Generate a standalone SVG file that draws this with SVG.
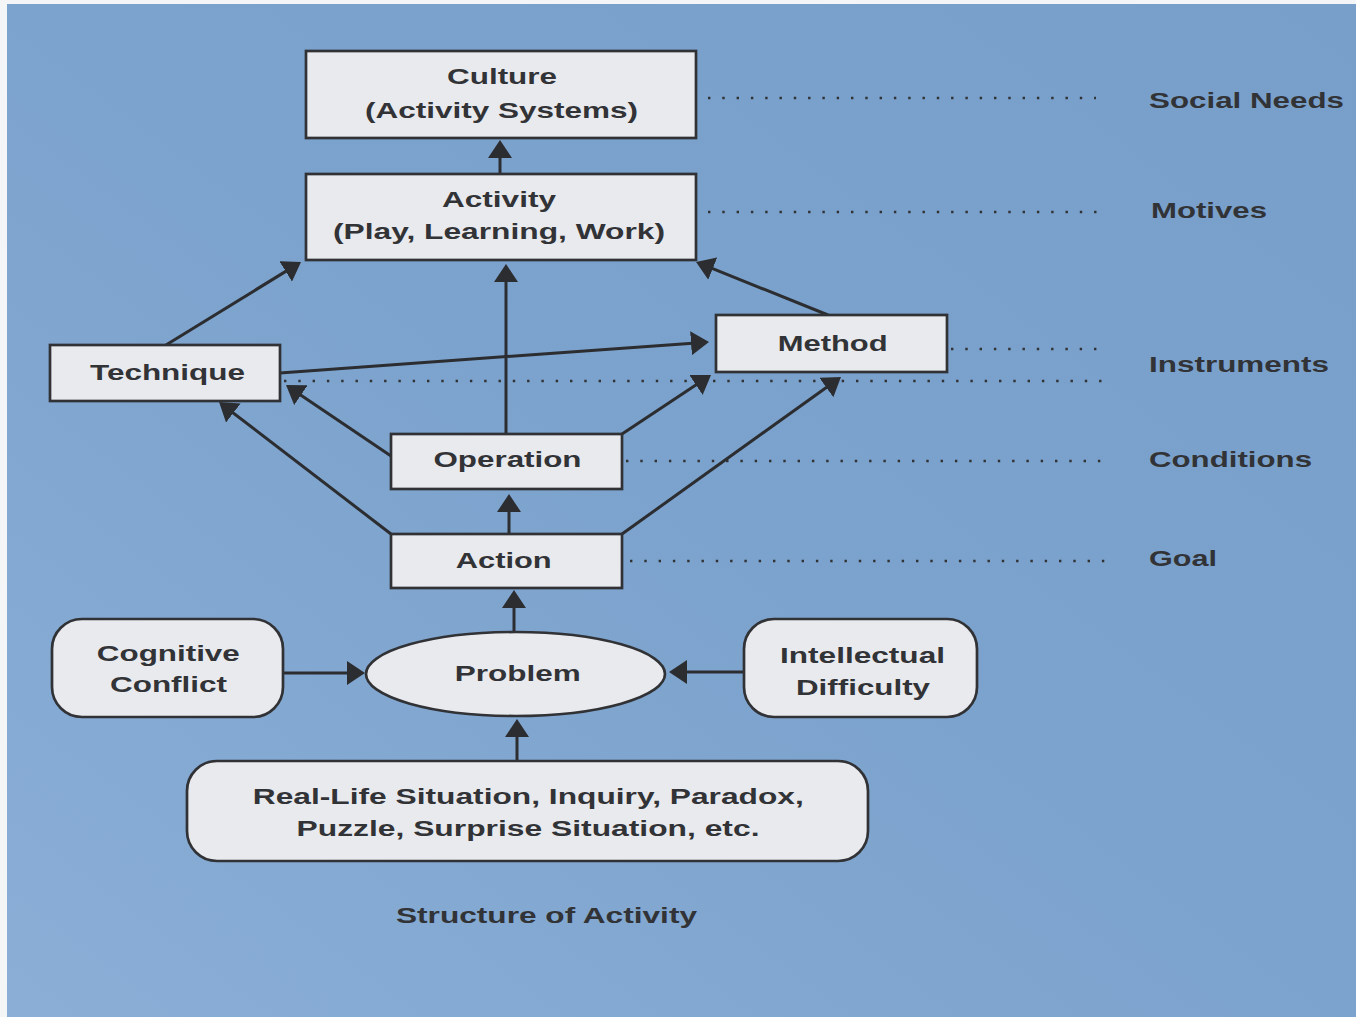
<svg xmlns="http://www.w3.org/2000/svg" width="1356" height="1017" viewBox="0 0 1356 1017">
  <defs>
    <linearGradient id="bg" x1="1" y1="0" x2="0" y2="1">
      <stop offset="0" stop-color="#789fca"/>
      <stop offset="0.5" stop-color="#7ca3cd"/>
      <stop offset="1" stop-color="#8aaed6"/>
    </linearGradient>
    <marker id="head" viewBox="0 0 18 24" refX="12" refY="12" markerWidth="18" markerHeight="24" markerUnits="userSpaceOnUse" orient="auto">
      <path d="M0,0 L18,12 L0,24 z" fill="#2c2d30"/>
    </marker>
    <style>
      .box { fill: #e9eaee; stroke: #313235; stroke-width: 2.7; }
      .lbl { font-family: "Liberation Sans", Arial, sans-serif; font-weight: bold; font-size: 22.5px; fill: #323336; }
      .c { text-anchor: middle; }
      .arrow { stroke: #2c2d30; stroke-width: 3; fill: none; marker-end: url(#head); }
      .dots { stroke: #313235; stroke-width: 2.4; stroke-dasharray: 2.4 11.9; fill: none; }
    </style>
  </defs>

  <!-- page -->
  <rect x="0" y="0" width="1356" height="1017" fill="#f4f5f7"/>
  <rect x="7" y="4" width="1349" height="1013" fill="url(#bg)"/>

  <!-- level guide lines -->
  <g id="guides">
    <line class="dots" x1="708" y1="98" x2="1096" y2="98"/>
    <line class="dots" x1="708" y1="212" x2="1108" y2="212"/>
    <line class="dots" x1="951" y1="349" x2="1108" y2="349"/>
    <line class="dots" x1="284" y1="381" x2="1108" y2="381"/>
    <line class="dots" x1="626" y1="461" x2="1108" y2="461"/>
    <line class="dots" x1="630" y1="561" x2="1116" y2="561"/>
  </g>

  <!-- level labels -->
  <g id="levels">
    <text class="lbl" x="1149" y="108" textLength="195" lengthAdjust="spacingAndGlyphs">Social Needs</text>
    <text class="lbl" x="1151" y="218" textLength="116" lengthAdjust="spacingAndGlyphs">Motives</text>
    <text class="lbl" x="1149" y="372" textLength="180" lengthAdjust="spacingAndGlyphs">Instruments</text>
    <text class="lbl" x="1149" y="467" textLength="163" lengthAdjust="spacingAndGlyphs">Conditions</text>
    <text class="lbl" x="1149" y="566" textLength="68" lengthAdjust="spacingAndGlyphs">Goal</text>
  </g>

  <!-- connectors -->
  <g id="connectors">
    <line class="arrow" x1="500" y1="174" x2="500" y2="146"/>
    <line class="arrow" x1="506" y1="434" x2="506" y2="270"/>
    <line class="arrow" x1="166" y1="345" x2="295.9" y2="265.1"/>
    <line class="arrow" x1="828" y1="315" x2="701.6" y2="264.2"/>
    <line class="arrow" x1="280" y1="373" x2="703" y2="342.4"/>
    <line class="arrow" x1="391" y1="456" x2="291" y2="388.4"/>
    <line class="arrow" x1="391" y1="534" x2="223.8" y2="405.7"/>
    <line class="arrow" x1="622" y1="434" x2="706" y2="378.3"/>
    <line class="arrow" x1="622" y1="534" x2="836.1" y2="380.5"/>
    <line class="arrow" x1="509" y1="534" x2="509" y2="500"/>
    <line class="arrow" x1="514" y1="632" x2="514" y2="596"/>
    <line class="arrow" x1="517" y1="761" x2="517" y2="725"/>
    <line class="arrow" x1="283" y1="673" x2="359" y2="673"/>
    <line class="arrow" x1="744" y1="672" x2="675" y2="672"/>
  </g>

  <g id="culture">
    <rect class="box" x="306" y="51" width="390" height="87"/>
    <text class="lbl c" x="502" y="84" textLength="110" lengthAdjust="spacingAndGlyphs">Culture</text>
    <text class="lbl c" x="501.5" y="118" textLength="273" lengthAdjust="spacingAndGlyphs">(Activity Systems)</text>
  </g>

  <g id="activity">
    <rect class="box" x="306" y="174" width="390" height="86"/>
    <text class="lbl c" x="499" y="207" textLength="114" lengthAdjust="spacingAndGlyphs">Activity</text>
    <text class="lbl c" x="499" y="239" textLength="332" lengthAdjust="spacingAndGlyphs">(Play, Learning, Work)</text>
  </g>

  <g id="technique">
    <rect class="box" x="50" y="345" width="230" height="56"/>
    <text class="lbl c" x="167.5" y="380" textLength="155" lengthAdjust="spacingAndGlyphs">Technique</text>
  </g>

  <g id="method">
    <rect class="box" x="716" y="315" width="231" height="57"/>
    <text class="lbl c" x="832.7" y="351" textLength="110" lengthAdjust="spacingAndGlyphs">Method</text>
  </g>

  <g id="operation">
    <rect class="box" x="391" y="434" width="231" height="55"/>
    <text class="lbl c" x="507.5" y="467" textLength="148" lengthAdjust="spacingAndGlyphs">Operation</text>
  </g>

  <g id="action">
    <rect class="box" x="391" y="534" width="231" height="54"/>
    <text class="lbl c" x="503.7" y="568" textLength="96" lengthAdjust="spacingAndGlyphs">Action</text>
  </g>

  <g id="problem">
    <ellipse class="box" cx="515.5" cy="674" rx="149.5" ry="42"/>
    <text class="lbl c" x="517.8" y="681" textLength="126" lengthAdjust="spacingAndGlyphs">Problem</text>
  </g>

  <g id="cognitive-conflict">
    <rect class="box" x="52" y="619" width="231" height="98" rx="30" ry="30"/>
    <text class="lbl c" x="168.3" y="661" textLength="143" lengthAdjust="spacingAndGlyphs">Cognitive</text>
    <text class="lbl c" x="168.5" y="692" textLength="117" lengthAdjust="spacingAndGlyphs">Conflict</text>
  </g>

  <g id="intellectual-difficulty">
    <rect class="box" x="744" y="619" width="233" height="98" rx="30" ry="30"/>
    <text class="lbl c" x="862.5" y="663" textLength="165" lengthAdjust="spacingAndGlyphs">Intellectual</text>
    <text class="lbl c" x="863" y="695" textLength="134" lengthAdjust="spacingAndGlyphs">Difficulty</text>
  </g>

  <g id="situations">
    <rect class="box" x="187" y="761" width="681" height="100" rx="30" ry="30"/>
    <text class="lbl c" x="528.3" y="804" textLength="551" lengthAdjust="spacingAndGlyphs">Real-Life Situation, Inquiry, Paradox,</text>
    <text class="lbl c" x="528" y="836" textLength="463" lengthAdjust="spacingAndGlyphs">Puzzle, Surprise Situation, etc.</text>
  </g>

  <text class="lbl" x="396" y="923" textLength="301" lengthAdjust="spacingAndGlyphs">Structure of Activity</text>
</svg>
